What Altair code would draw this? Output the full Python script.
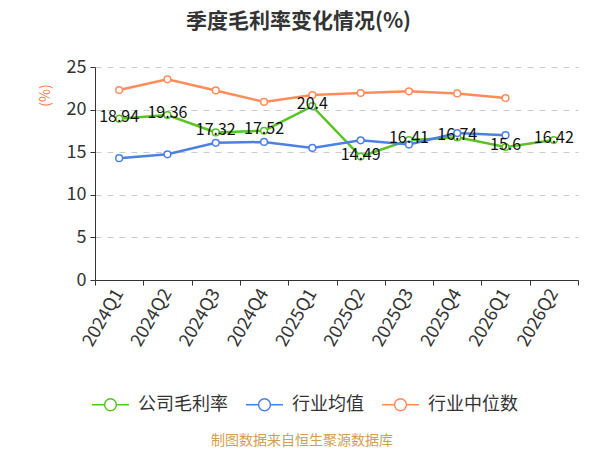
import altair as alt
import pandas as pd

quarters = ["2024Q1", "2024Q2", "2024Q3", "2024Q4", "2025Q1",
            "2025Q2", "2025Q3", "2025Q4", "2026Q1", "2026Q2"]
company = [18.94, 19.36, 17.32, 17.52, 20.4, 14.49, 16.41, 16.74, 15.6, 16.42]
ind_mean = [14.3, 14.75, 16.1, 16.2, 15.5, 16.4, 15.9, 17.25, 17.0]
ind_median = [22.3, 23.55, 22.25, 20.9, 21.7, 21.95, 22.15, 21.9, 21.35]

series_names = ["公司毛利率", "行业均值", "行业中位数"]
series_colors = ["#58c322", "#4c80e6", "#ff8c5a"]

rows = []
for name, vals in zip(series_names, [company, ind_mean, ind_median]):
    for i, v in enumerate(vals):
        rows.append({"quarter": quarters[i], "pos": i + 0.5, "series": name, "value": v})
df = pd.DataFrame(rows)

FONT = "Noto Sans CJK SC"
label_expr = "[" + ",".join("'%s'" % q for q in quarters) + "][floor(datum.value)]"

color = alt.Color(
    "series:N",
    scale=alt.Scale(domain=series_names, range=series_colors),
    legend=alt.Legend(
        title=None, orient="none", legendX=-4, legendY=318, direction="horizontal",
        symbolType="M-1,0L-0.32,0M0.32,0L1,0M0.32,0A0.32,0.32,0,1,1,-0.32,0A0.32,0.32,0,1,1,0.32,0",
        symbolSize=1369, symbolStrokeWidth=1.5, symbolFillColor="white",
        labelFontSize=18, labelColor="#333", labelOffset=8, columnPadding=15,
        labelFont=FONT,
    ),
)

y = alt.Y(
    "value:Q",
    scale=alt.Scale(domain=[0, 25], nice=False),
    axis=alt.Axis(
        values=[0, 5, 10, 15, 20, 25], title="(%)", titleColor="#f07c4a",
        titleFontSize=14, titleFontWeight="normal", titleAngle=-90,
        titleX=-50, titleY=28, titleAlign="center", titleBaseline="middle",
        grid=True, gridDash=[6, 6], gridColor="#cccccc", gridWidth=1,
        tickSize=5, tickColor="#333", domainColor="#333",
        labelFontSize=18, labelColor="#333", labelPadding=4,
    ),
)

x_ticks = alt.X(
    "pos:Q",
    scale=alt.Scale(domain=[0, 10], nice=False),
    axis=alt.Axis(values=list(range(11)), labels=False, title=None, grid=False,
                  tickSize=5, tickColor="#333", domainColor="#333", orient="bottom"),
)
x_labels = alt.X(
    "pos:Q",
    scale=alt.Scale(domain=[0, 10], nice=False),
    axis=alt.Axis(values=[i + 0.5 for i in range(10)], labelExpr=label_expr,
                  title=None, grid=False, ticks=False, domain=False,
                  labelAngle=-60, labelAlign="right", labelBaseline="middle",
                  labelFontSize=18, labelColor="#333", labelPadding=10,
                  orient="bottom"),
)

base = alt.Chart(df)
lines = base.mark_line(strokeWidth=2.5).encode(x=x_ticks, y=y, color=color)
points = base.mark_point(shape="circle", filled=False, fill="white", size=45,
                         strokeWidth=1.5, opacity=1).encode(
    x=x_labels, y=alt.Y("value:Q"),
    color=alt.Color("series:N", scale=alt.Scale(domain=series_names, range=series_colors), legend=None))
texts = base.transform_filter(alt.datum.series == series_names[0]).mark_text(
    fontSize=16, color="#111", baseline="middle", dy=-2, font=FONT).encode(
    x=alt.X("pos:Q", axis=None), y=alt.Y("value:Q"), text=alt.Text("value:Q"))

footer = alt.Chart(pd.DataFrame({"t": ["制图数据来自恒生聚源数据库"]})).mark_text(
    fontSize=14, color="#d0a050", font=FONT, baseline="middle", align="center").encode(
    x=alt.value(207), y=alt.value(374), text="t:N")

chart = alt.layer(lines, points, texts, footer).resolve_axis(x="independent").properties(
    width=483, height=213,
    autosize=alt.AutoSizeParams(type="none"),
    padding={"left": 87, "top": 59, "right": 14, "bottom": 170},
    title=alt.TitleParams("季度毛利率变化情况(%)", anchor="middle", frame="group",
                          dx=-38, offset=26, fontSize=21, fontWeight="bold",
                          color="#333", font=FONT),
).configure(font=FONT).configure_view(stroke=None)

chart.save("out.html", embed_options={"renderer": "svg", "actions": False})
